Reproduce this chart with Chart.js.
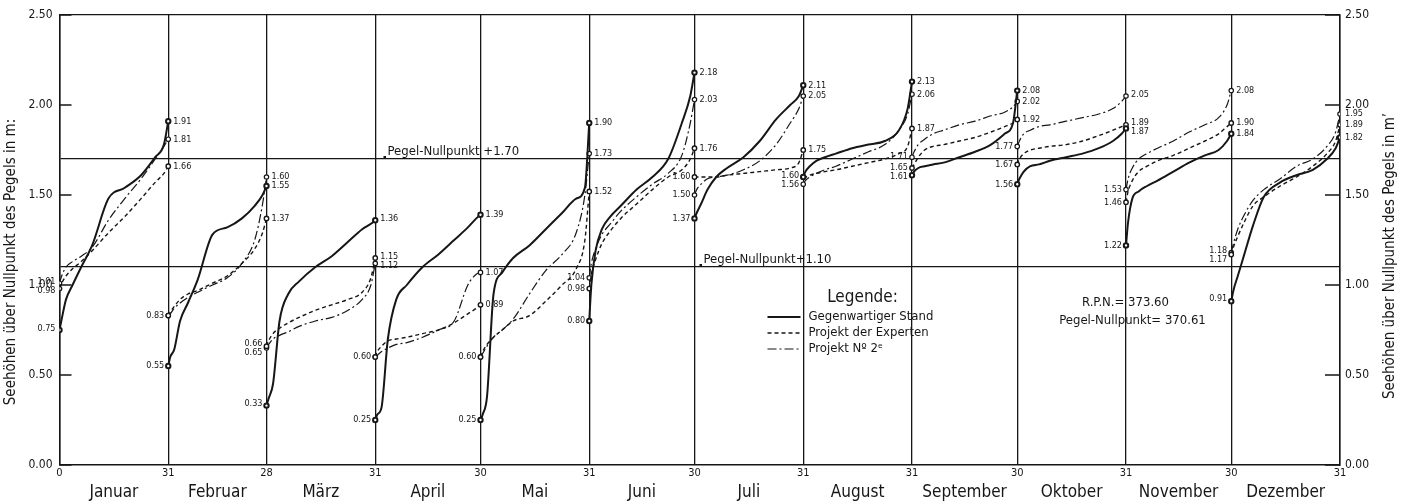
<!DOCTYPE html>
<html>
<head>
<meta charset="utf-8">
<script src="https://cdn.jsdelivr.net/npm/chart.js@4.4.0/dist/chart.umd.min.js"></script>
<style>
  html, body { margin: 0; padding: 0; background: #fff; }
  canvas { display: block; }
</style>
</head>
<body>
<canvas id="pegel-chart" width="1406" height="502"></canvas>
<script>
// Monate und Tageszahlen
const monthNames = ['Januar', 'Februar', 'März', 'April', 'Mai', 'Juni', 'Juli', 'August', 'September', 'Oktober', 'November', 'Dezember'];
const monthDays = [31, 28, 31, 30, 31, 30, 31, 31, 30, 31, 30, 31];
const dayTickLabels = ['0', '31', '28', '31', '30', '31', '30', '31', '31', '30', '31', '30', '31'];
const yTickValues = [0, 0.5, 1, 1.5, 2, 2.5];
const refLevels = [1.10, 1.70];

const monthFractions = [0, 0.02, 0.06, 0.12, 0.2, 0.3, 0.45, 0.6, 0.75, 0.88, 0.96, 1];

// Gegenwärtiger Stand, je Monat
const standValues = [
  [0.75, 0.81, 0.92, 1.00, 1.10, 1.22, 1.48, 1.54, 1.61, 1.71, 1.78, 1.91],
  [0.55, 0.60, 0.64, 0.80, 0.90, 1.03, 1.28, 1.32, 1.37, 1.44, 1.50, 1.55],
  [0.33, 0.37, 0.45, 0.80, 0.95, 1.02, 1.10, 1.16, 1.24, 1.31, 1.34, 1.36],
  [0.25, 0.28, 0.32, 0.70, 0.92, 1.00, 1.10, 1.17, 1.25, 1.32, 1.37, 1.39],
  [0.25, 0.28, 0.38, 0.95, 1.07, 1.15, 1.22, 1.31, 1.40, 1.48, 1.54, 1.90],
  [0.80, 1.00, 1.19, 1.31, 1.38, 1.44, 1.53, 1.60, 1.70, 1.90, 2.05, 2.18],
  [1.37, 1.40, 1.45, 1.53, 1.60, 1.65, 1.71, 1.80, 1.92, 2.00, 2.05, 2.11],
  [1.60, 1.63, 1.66, 1.69, 1.71, 1.73, 1.76, 1.78, 1.80, 1.86, 1.98, 2.13],
  [1.61, 1.63, 1.65, 1.66, 1.67, 1.68, 1.71, 1.74, 1.78, 1.84, 1.90, 2.08],
  [1.56, 1.59, 1.63, 1.66, 1.67, 1.69, 1.71, 1.73, 1.76, 1.80, 1.84, 1.87],
  [1.22, 1.35, 1.48, 1.52, 1.55, 1.58, 1.63, 1.68, 1.72, 1.75, 1.80, 1.84],
  [0.91, 0.97, 1.05, 1.17, 1.33, 1.49, 1.57, 1.61, 1.64, 1.70, 1.76, 1.82]
];

// Projekt der Experten
const expertenValues = [
  [0.98, 1.01, 1.05, 1.09, 1.13, 1.19, 1.29, 1.38, 1.48, 1.57, 1.62, 1.66],
  [0.83, 0.85, 0.88, 0.92, 0.95, 0.97, 1.01, 1.05, 1.12, 1.20, 1.29, 1.37],
  [0.66, 0.69, 0.73, 0.76, 0.79, 0.82, 0.86, 0.89, 0.92, 0.96, 1.04, 1.15],
  [0.60, 0.63, 0.66, 0.69, 0.70, 0.71, 0.73, 0.75, 0.79, 0.84, 0.87, 0.89],
  [0.60, 0.63, 0.67, 0.71, 0.75, 0.80, 0.83, 0.91, 1.00, 1.09, 1.25, 1.52],
  [0.98, 1.06, 1.14, 1.23, 1.30, 1.37, 1.45, 1.53, 1.60, 1.64, 1.70, 1.76],
  [1.60, 1.60, 1.60, 1.60, 1.60, 1.61, 1.62, 1.63, 1.64, 1.65, 1.68, 1.75],
  [1.60, 1.60, 1.61, 1.62, 1.63, 1.64, 1.66, 1.68, 1.70, 1.73, 1.77, 1.87],
  [1.65, 1.67, 1.71, 1.75, 1.77, 1.78, 1.80, 1.82, 1.85, 1.88, 1.90, 1.92],
  [1.67, 1.70, 1.73, 1.75, 1.76, 1.77, 1.78, 1.80, 1.83, 1.86, 1.88, 1.89],
  [1.46, 1.52, 1.58, 1.63, 1.66, 1.69, 1.72, 1.76, 1.80, 1.84, 1.88, 1.90],
  [1.17, 1.21, 1.27, 1.35, 1.44, 1.49, 1.55, 1.60, 1.66, 1.73, 1.80, 1.89]
];

// Projekt Nr. 2
const projekt2Values = [
  [1.01, 1.05, 1.10, 1.13, 1.16, 1.21, 1.36, 1.48, 1.59, 1.70, 1.77, 1.81],
  [0.83, 0.84, 0.87, 0.90, 0.93, 0.96, 1.00, 1.04, 1.12, 1.25, 1.45, 1.60],
  [0.65, 0.67, 0.70, 0.72, 0.74, 0.77, 0.80, 0.82, 0.86, 0.92, 1.00, 1.12],
  [0.60, 0.61, 0.63, 0.65, 0.67, 0.68, 0.71, 0.75, 0.80, 1.00, 1.06, 1.07],
  [0.60, 0.62, 0.66, 0.71, 0.75, 0.81, 0.95, 1.08, 1.17, 1.29, 1.50, 1.73],
  [1.04, 1.12, 1.20, 1.28, 1.34, 1.41, 1.49, 1.56, 1.62, 1.72, 1.90, 2.03],
  [1.50, 1.53, 1.56, 1.59, 1.60, 1.61, 1.64, 1.69, 1.78, 1.90, 1.98, 2.05],
  [1.56, 1.58, 1.60, 1.62, 1.64, 1.66, 1.70, 1.74, 1.78, 1.86, 1.95, 2.06],
  [1.71, 1.74, 1.78, 1.81, 1.84, 1.86, 1.89, 1.91, 1.94, 1.96, 1.99, 2.02],
  [1.77, 1.80, 1.84, 1.86, 1.88, 1.89, 1.91, 1.93, 1.95, 1.98, 2.02, 2.05],
  [1.53, 1.59, 1.65, 1.70, 1.73, 1.76, 1.80, 1.85, 1.89, 1.93, 2.00, 2.08],
  [1.18, 1.23, 1.31, 1.39, 1.47, 1.53, 1.59, 1.66, 1.70, 1.77, 1.85, 1.95]
];

const ink = '#161616';
const fontFamily = "'DejaVu Sans Condensed', 'Liberation Sans Narrow', 'DejaVu Sans', sans-serif";

// Monatsanfang in Tagen seit Jahresbeginn
let dayAcc = 0;
const monthStart = monthDays.map(d => { const s = dayAcc; dayAcc += d; return s; });
const monthBounds = monthStart.concat([dayAcc]);
const monthMids = monthStart.map((s, i) => s + monthDays[i] / 2);

// each month is its own curve, so a null point breaks the line between months
function buildSeries(values) {
  const pts = [];
  values.forEach((row, m) => {
    row.forEach((v, i) => pts.push({ x: monthStart[m] + monthFractions[i] * monthDays[m], y: v }));
    pts.push({ x: monthStart[m] + monthDays[m], y: null });
  });
  return pts;
}

const perMonth = monthFractions.length + 1;
function endRadius(ctx) {
  const i = ctx.dataIndex % perMonth;
  return (i === 0 || i === monthFractions.length - 1) ? 2.2 : 0;
}

const seriesList = [standValues, expertenValues, projekt2Values];

// spread labels that would sit on top of each other, keeping their middle
function spreadLabels(items, gap) {
  items.sort((p, q) => p.py - q.py);
  const orig = items.reduce((s, it) => s + it.py, 0);
  for (let i = 1; i < items.length; i++) {
    if (items[i].py - items[i - 1].py < gap) items[i].py = items[i - 1].py + gap;
  }
  const moved = items.reduce((s, it) => s + it.py, 0);
  const shift = (moved - orig) / items.length;
  items.forEach(it => { it.py -= shift; });
  return items;
}

// Beschriftungen, Legende und Randtitel
const pegelPlugin = {
  id: 'pegel',
  afterDraw(chart) {
    const { ctx, chartArea: a, scales } = chart;
    const xs = scales.x, ys = scales.y;
    ctx.save();
    ctx.strokeStyle = ink;
    ctx.fillStyle = ink;
    ctx.lineWidth = 1.3;

    // kurze Striche an den Achsen, nach innen
    yTickValues.forEach(v => {
      const py = ys.getPixelForValue(v);
      ctx.beginPath();
      ctx.moveTo(a.left, py); ctx.lineTo(a.left + 12, py);
      ctx.moveTo(a.right - 15, py); ctx.lineTo(a.right, py);
      ctx.stroke();
    });

    // Werte am Monatsanfang und -ende
    ctx.font = '9px ' + fontFamily;
    ctx.textBaseline = 'middle';
    const toItems = vals => [...new Set(vals.map(v => v.toFixed(2)))].map(t => ({ t, py: ys.getPixelForValue(+t) }));
    monthStart.forEach((s, m) => {
      const startItems = spreadLabels(toItems(seriesList.map(sv => sv[m][0])), 9);
      const endItems = spreadLabels(toItems(seriesList.map(sv => sv[m][sv[m].length - 1])), 9);
      ctx.textAlign = 'right';
      startItems.forEach(it => ctx.fillText(it.t, xs.getPixelForValue(s) - 4, it.py));
      ctx.textAlign = 'left';
      endItems.forEach(it => ctx.fillText(it.t, xs.getPixelForValue(s + monthDays[m]) + 5, it.py));
    });

    // Pegel-Nullpunkt Linien
    ctx.font = '13px ' + fontFamily;
    ctx.textAlign = 'left';
    ctx.textBaseline = 'alphabetic';
    const y17 = ys.getPixelForValue(1.70), y11 = ys.getPixelForValue(1.10);
    ctx.fillRect(a.left + 324, y17 - 3, 2.5, 2.5);
    ctx.fillText('Pegel-Nullpunkt +1.70', a.left + 328, y17 - 4);
    ctx.fillRect(a.left + 640, y11 - 3, 2.5, 2.5);
    ctx.fillText('Pegel-Nullpunkt+1.10', a.left + 644, y11 - 4);

    // Legende
    ctx.font = '17px ' + fontFamily;
    ctx.textAlign = 'center';
    ctx.textBaseline = 'middle';
    ctx.fillText('Legende:', a.left + 803, 298);
    ctx.font = '13px ' + fontFamily;
    ctx.textAlign = 'left';
    chart.data.datasets.forEach((ds, i) => {
      const ly = 317 + i * 16;
      ctx.save();
      ctx.lineWidth = ds.borderWidth;
      ctx.setLineDash(ds.borderDash || []);
      ctx.beginPath();
      ctx.moveTo(a.left + 708, ly); ctx.lineTo(a.left + 741, ly);
      ctx.stroke();
      ctx.restore();
      ctx.fillText(ds.label, a.left + 749, ly);
    });

    // Höhenangaben
    ctx.textAlign = 'center';
    ctx.fillText('R.P.N.= 373.60', a.left + 1066, 303);
    ctx.fillText('Pegel-Nullpunkt= 370.61', a.left + 1073, 321);

    // Achsentitel, beide von unten nach oben
    ctx.font = '15px ' + fontFamily;
    [[11, 262, 'Seehöhen über Nullpunkt des Pegels in m:'], [1390, 256, 'Seehöhen über Nullpunkt des Pegels in m\u2019']].forEach(([tx, ty, t]) => {
      ctx.save();
      ctx.translate(tx, ty);
      ctx.rotate(-Math.PI / 2);
      ctx.fillText(t, 0, 0);
      ctx.restore();
    });
    ctx.restore();
  }
};

Chart.defaults.font.family = fontFamily;
Chart.defaults.color = ink;

const yGridTicks = yTickValues.concat(refLevels).sort((p, q) => p - q);

const pegelChart = new Chart(document.getElementById('pegel-chart'), {
  type: 'line',
  data: {
    datasets: [
      {
        label: 'Gegenwartiger Stand',
        data: buildSeries(standValues),
        borderColor: ink,
        borderWidth: 2,
        borderDash: []
      },
      {
        label: 'Projekt der Experten',
        data: buildSeries(expertenValues),
        borderColor: ink,
        borderWidth: 1.4,
        borderDash: [4, 3]
      },
      {
        label: 'Projekt N\u00ba 2\u1d49',
        data: buildSeries(projekt2Values),
        borderColor: ink,
        borderWidth: 1.2,
        borderDash: [9, 3, 2, 3]
      }
    ]
  },
  options: {
    responsive: false,
    animation: false,
    spanGaps: false,
    cubicInterpolationMode: 'monotone',
    elements: {
      point: {
        radius: endRadius,
        backgroundColor: '#fff',
        borderColor: ink,
        borderWidth: 1
      }
    },
    layout: { padding: { top: 15, left: 0, right: 0, bottom: 0 } },
    plugins: {
      legend: { display: false },
      tooltip: { enabled: false }
    },
    scales: {
      x: {
        type: 'linear',
        min: 0,
        max: 365,
        position: 'bottom',
        afterBuildTicks: s => { s.ticks = monthBounds.map(v => ({ value: v })); },
        afterFit: s => { s.height = 14; },
        ticks: {
          autoSkip: false,
          maxRotation: 0,
          padding: 2,
          font: { size: 11 },
          callback: (v, i) => dayTickLabels[i]
        },
        grid: { color: ink, lineWidth: 1.3, drawTicks: false },
        border: { color: ink, width: 1.5 }
      },
      xm: {
        type: 'linear',
        min: 0,
        max: 365,
        position: 'bottom',
        afterBuildTicks: s => { s.ticks = monthMids.map(v => ({ value: v })); },
        afterFit: s => { s.height = 23; },
        ticks: {
          autoSkip: false,
          maxRotation: 0,
          padding: 3,
          font: { size: 17 },
          callback: (v, i) => monthNames[i]
        },
        grid: { display: false, drawTicks: false },
        border: { display: false }
      },
      y: {
        type: 'linear',
        min: 0,
        max: 2.5,
        position: 'left',
        afterBuildTicks: s => { s.ticks = yGridTicks.map(v => ({ value: v })); },
        afterFit: s => { s.width = 59.5; },
        ticks: {
          padding: 7,
          font: { size: 12 },
          callback: v => yTickValues.includes(v) ? v.toFixed(2) : ''
        },
        grid: {
          drawTicks: false,
          lineWidth: 1.3,
          color: c => (refLevels.includes(c.tick.value) || c.tick.value === 2.5) ? ink : 'rgba(0,0,0,0)'
        },
        border: { color: ink, width: 1.5 }
      },
      y2: {
        type: 'linear',
        min: 0,
        max: 2.5,
        position: 'right',
        afterBuildTicks: s => { s.ticks = yTickValues.map(v => ({ value: v })); },
        afterFit: s => { s.width = 66; },
        ticks: {
          padding: 5,
          font: { size: 12 },
          callback: v => v.toFixed(2)
        },
        grid: { display: false, drawTicks: false },
        border: { color: ink, width: 1.5 }
      }
    }
  },
  plugins: [pegelPlugin]
});
</script>
</body>
</html>
